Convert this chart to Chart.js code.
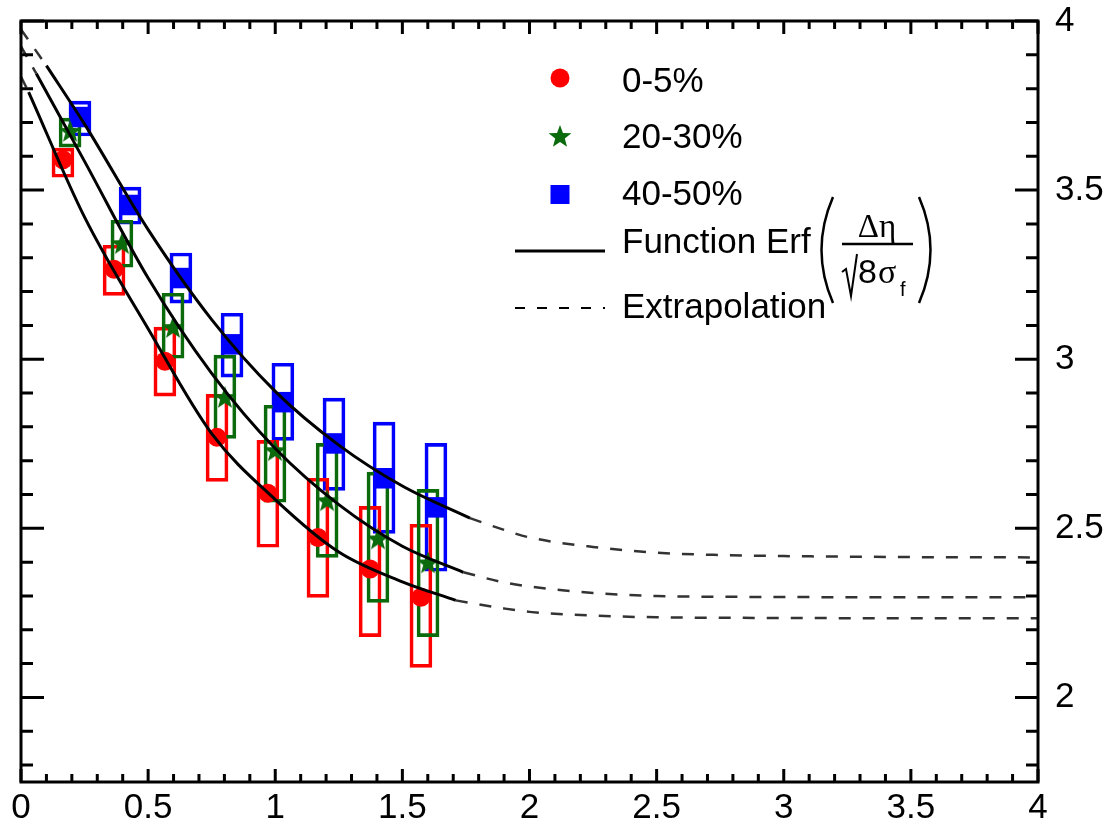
<!DOCTYPE html>
<html>
<head>
<meta charset="utf-8">
<script src="https://cdn.jsdelivr.net/npm/chart.js@4.4.1/dist/chart.umd.min.js"></script>
<style>
html,body{margin:0;padding:0;background:#fff;}
#wrap{width:1114px;height:829px;position:relative;}
</style>
</head>
<body>
<div id="wrap"><canvas id="c" width="1114" height="829"></canvas></div>
<script>
// ---------- DATA ----------
const seriesLabels = ['0-5%', '20-30%', '40-50%'];
const fitLabel = 'Function Erf';
const extrapLabel = 'Extrapolation';

const xTickValues = [0, 0.5, 1, 1.5, 2, 2.5, 3, 3.5, 4];
const xTickLabels = ['0', '0.5', '1', '1.5', '2', '2.5', '3', '3.5', '4'];
const yTickValues = [2, 2.5, 3, 3.5, 4];
const yTickLabels = ['2', '2.5', '3', '3.5', '4'];

// 0-5%
const xRed    = [0.165, 0.366, 0.566, 0.771, 0.971, 1.168, 1.373, 1.573];
const yRed    = [3.590, 3.266, 2.994, 2.769, 2.604, 2.473, 2.380, 2.296];
const sysLoRed = [3.538, 3.189, 2.891, 2.639, 2.444, 2.296, 2.180, 2.089];
const sysHiRed = [3.624, 3.337, 3.095, 2.896, 2.760, 2.648, 2.565, 2.512];

// 20-30%
const xGreen    = [0.193, 0.397, 0.598, 0.802, 0.999, 1.204, 1.404, 1.601];
const yGreen    = [3.675, 3.343, 3.095, 2.888, 2.731, 2.583, 2.470, 2.399];
const sysLoGreen = [3.627, 3.272, 3.003, 2.766, 2.577, 2.414, 2.281, 2.180];
const sysHiGreen = [3.713, 3.411, 3.195, 3.012, 2.864, 2.751, 2.666, 2.615];

// 40-50%
const xBlue    = [0.232, 0.429, 0.629, 0.830, 1.030, 1.231, 1.428, 1.632];
const yBlue    = [3.716, 3.456, 3.240, 3.044, 2.873, 2.751, 2.648, 2.562];
const sysLoBlue = [3.660, 3.399, 3.166, 2.947, 2.760, 2.612, 2.485, 2.373];
const sysHiBlue = [3.763, 3.509, 3.314, 3.136, 2.988, 2.885, 2.814, 2.751];

// fit curves
const fitXRed = [0.03, 0.25, 0.5, 0.75, 1.0, 1.25, 1.5, 1.71];
const fitYRed = [3.790, 3.420, 3.090, 2.780, 2.585, 2.430, 2.342, 2.287];
const headXRed = [0, 0.03];
const headYRed = [3.835, 3.790];
const tailXRed = [1.71, 1.9, 2.0, 2.25, 2.5, 3.0, 3.5, 4.0];
const tailYRed = [2.287, 2.263, 2.253, 2.242, 2.237, 2.235, 2.234, 2.234];

const fitXGreen = [0.06, 0.25, 0.5, 0.75, 1.0, 1.25, 1.5, 1.74];
const fitYGreen = [3.845, 3.585, 3.240, 2.958, 2.736, 2.570, 2.447, 2.370];
const headXGreen = [0, 0.06];
const headYGreen = [3.925, 3.845];
const tailXGreen = [1.74, 1.9, 2.0, 2.25, 2.5, 3.0, 3.5, 4.0];
const tailYGreen = [2.370, 2.340, 2.328, 2.309, 2.300, 2.297, 2.296, 2.296];

const fitXBlue = [0.1, 0.25, 0.5, 0.75, 1.0, 1.25, 1.5, 1.766];
const fitYBlue = [3.868, 3.695, 3.383, 3.117, 2.905, 2.746, 2.625, 2.530];
const headXBlue = [0, 0.1];
const headYBlue = [3.975, 3.868];
const tailXBlue = [1.766, 1.93, 2.0, 2.25, 2.5, 2.75, 3.0, 3.5, 4.0];
const tailYBlue = [2.530, 2.488, 2.473, 2.445, 2.428, 2.421, 2.418, 2.415, 2.414];

// ---------- STYLE ----------
const RED = '#ff0000', GREEN = '#0b6a0b', BLUE = '#0000ff';
const FONT = '"Liberation Sans", Arial, Helvetica, sans-serif';

function makeStar(size, color) {
  const c = document.createElement('canvas');
  c.width = c.height = size;
  const g = c.getContext('2d');
  const R = size / 2, r = R * 0.42;
  g.beginPath();
  for (let i = 0; i < 10; i++) {
    const a = -Math.PI / 2 + i * Math.PI / 5;
    const rr = i % 2 === 0 ? R : r;
    g.lineTo(R + rr * Math.cos(a), R + 1 + rr * Math.sin(a));
  }
  g.closePath();
  g.fillStyle = color;
  g.fill();
  return c;
}
const starImg = makeStar(24, GREEN);

const pts = (xs, ys) => xs.map((v, i) => ({x: v, y: ys[i]}));
const boxes = (xs, lo, hi) => xs.map((v, i) => ({x: v, y: [lo[i], hi[i]]}));

function boxSet(xs, lo, hi, color) {
  return {type: 'bar', data: boxes(xs, lo, hi), backgroundColor: 'rgba(0,0,0,0)',
    borderColor: color, borderWidth: 3, borderSkipped: false, barThickness: 22,
    grouped: false, order: 5};
}
function pointSet(label, xs, ys, color, style, r) {
  return {type: 'scatter', label: label, data: pts(xs, ys), backgroundColor: color,
    borderColor: color, borderWidth: 0, pointStyle: style, pointRadius: r,
    pointHoverRadius: r, showLine: false, order: 3};
}
function curveSet(xs, ys, dashed) {
  return {type: 'line', data: pts(xs, ys), borderColor: dashed ? '#333' : '#000',
    borderWidth: dashed ? 2.5 : 3, borderDash: dashed ? [12, 12] : [],
    pointRadius: 0, fill: false, cubicInterpolationMode: 'monotone', order: 1};
}

const datasets = [
  boxSet(xGreen, sysLoGreen, sysHiGreen, GREEN),
  boxSet(xRed, sysLoRed, sysHiRed, RED),
  boxSet(xBlue, sysLoBlue, sysHiBlue, BLUE),
  pointSet(seriesLabels[0], xRed, yRed, RED, 'circle', 9.5),
  pointSet(seriesLabels[1], xGreen, yGreen, GREEN, starImg, 12),
  pointSet(seriesLabels[2], xBlue, yBlue, BLUE, 'rect', 14.5),
  curveSet(fitXRed, fitYRed, false),
  curveSet(fitXGreen, fitYGreen, false),
  curveSet(fitXBlue, fitYBlue, false),
  curveSet(headXRed, headYRed, true),
  curveSet(headXGreen, headYGreen, true),
  curveSet(headXBlue, headYBlue, true),
  curveSet(tailXRed, tailYRed, true),
  curveSet(tailXGreen, tailYGreen, true),
  curveSet(tailXBlue, tailYBlue, true)
];

const framePlugin = {
  id: 'frame',
  afterDraw(chart) {
    const {ctx, chartArea: a, scales: {x, y}} = chart;
    ctx.save();
    ctx.strokeStyle = '#000';
    ctx.lineWidth = 3;
    ctx.lineCap = 'butt';
    ctx.beginPath();
    // x ticks (every 0.1, major every 0.5)
    for (let i = 0; i <= 40; i++) {
      const px = x.getPixelForValue(i / 10);
      const len = (i % 5 === 0) ? 13 : 8;
      ctx.moveTo(px, a.bottom); ctx.lineTo(px, a.bottom - len);
      ctx.moveTo(px, a.top); ctx.lineTo(px, a.top + len);
    }
    // y ticks
    for (let i = 18; i <= 40; i++) {
      const py = y.getPixelForValue(i / 10);
      const len = (i % 5 === 0) ? 23 : 12;
      ctx.moveTo(a.left, py); ctx.lineTo(a.left + len, py);
      ctx.moveTo(a.right, py); ctx.lineTo(a.right - len, py);
    }
    ctx.stroke();
    ctx.strokeRect(a.left, a.top, a.right - a.left, a.bottom - a.top);

    // ----- legend -----
    const mx = 560, tx = 622;
    ctx.fillStyle = RED;
    ctx.beginPath(); ctx.arc(mx, 78, 9.5, 0, Math.PI * 2); ctx.fill();
    ctx.drawImage(starImg, mx - 12, 137 - 13, 24, 24);
    ctx.fillStyle = BLUE;
    ctx.fillRect(mx - 9.5, 185, 19, 19);

    ctx.fillStyle = '#000';
    ctx.font = '35px ' + FONT;
    ctx.textBaseline = 'alphabetic';
    ctx.textAlign = 'left';
    ctx.fillText(seriesLabels[0], tx, 92);
    ctx.fillText(seriesLabels[1], tx, 148);
    ctx.fillText(seriesLabels[2], tx, 205);
    ctx.fillText(fitLabel, tx, 253);
    ctx.fillText(extrapLabel, tx, 318);

    ctx.lineWidth = 3;
    ctx.beginPath(); ctx.moveTo(515, 251); ctx.lineTo(605, 251); ctx.stroke();
    ctx.lineWidth = 2;
    ctx.setLineDash([10, 12]);
    ctx.beginPath(); ctx.moveTo(515, 308); ctx.lineTo(605, 308); ctx.stroke();
    ctx.setLineDash([]);

    // parentheses
    ctx.lineWidth = 2.5;
    ctx.beginPath(); ctx.moveTo(833, 197); ctx.quadraticCurveTo(810, 250, 833, 303); ctx.stroke();
    ctx.beginPath(); ctx.moveTo(919, 197); ctx.quadraticCurveTo(942, 250, 919, 303); ctx.stroke();
    // fraction
    ctx.font = '33px "Liberation Serif", serif';
    ctx.textAlign = 'center';
    ctx.fillText('\u0394\u03b7', 877, 237);
    ctx.lineWidth = 2.5;
    ctx.beginPath(); ctx.moveTo(842, 244); ctx.lineTo(913, 244); ctx.stroke();
    // radical
    ctx.lineWidth = 2;
    ctx.beginPath(); ctx.moveTo(842, 272); ctx.lineTo(846, 269); ctx.lineTo(851, 296); ctx.lineTo(857, 254); ctx.stroke();
    ctx.textAlign = 'left';
    ctx.font = '34px ' + FONT;
    ctx.fillText('8', 858, 283);
    ctx.font = '34px "Liberation Serif", serif';
    ctx.fillText('\u03c3', 878, 283);
    ctx.font = '20px ' + FONT;
    ctx.fillText('f', 900, 296);
    ctx.restore();
  }
};

new Chart(document.getElementById('c'), {
  type: 'line',
  data: {datasets: datasets},
  options: {
    responsive: false,
    animation: false,
    devicePixelRatio: 1,
    layout: {padding: {left: 21, top: 21, right: 0, bottom: 0}},
    plugins: {legend: {display: false}, tooltip: {enabled: false}},
    scales: {
      x: {
        type: 'linear', position: 'bottom', min: 0, max: 4, offset: false,
        grid: {display: false, drawTicks: false},
        border: {display: false},
        afterBuildTicks: s => { s.ticks = xTickValues.map(v => ({value: v})); },
        afterFit: s => { s.height = 47; s.paddingLeft = 0; s.paddingRight = 0; },
        ticks: {
          padding: 7, color: '#000', maxRotation: 0, autoSkip: false,
          font: {family: FONT, size: 35, lineHeight: 1.1},
          callback: (v, i) => xTickLabels[i]
        }
      },
      y: {
        type: 'linear', position: 'right', min: 1.75, max: 4,
        grid: {display: false, drawTicks: false},
        border: {display: false},
        afterBuildTicks: s => { s.ticks = yTickValues.map(v => ({value: v})); },
        afterFit: s => { s.width = 76; s.paddingTop = 0; s.paddingBottom = 0; },
        ticks: {
          padding: 17, color: '#000', autoSkip: false,
          font: {family: FONT, size: 35, lineHeight: 1.1},
          callback: (v, i) => yTickLabels[i]
        }
      }
    }
  },
  plugins: [framePlugin]
});
</script>
</body>
</html>
